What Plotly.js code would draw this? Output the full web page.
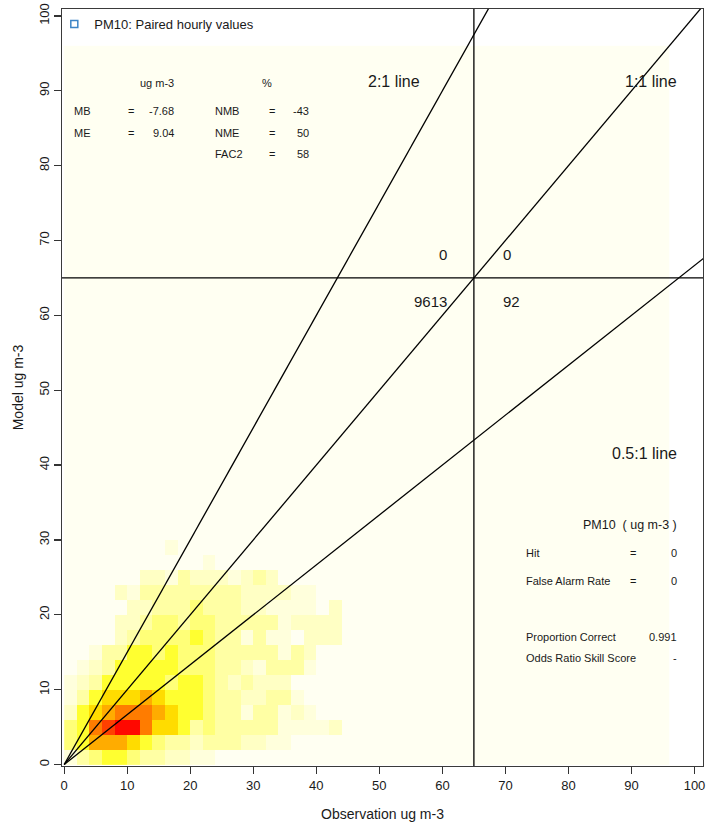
<!DOCTYPE html>
<html>
<head>
<meta charset="utf-8">
<script src="https://cdn.plot.ly/plotly-3.0.1.min.js"></script>
<style>
  html, body { margin: 0; padding: 0; background: #ffffff; }
  #chart { width: 707px; height: 822px; }
</style>
</head>
<body>
<div id="chart"></div>
<script>
// ---------------- DATA ----------------
// Binned paired values: 2 x 2 ug m-3 cells, 48 x 48 cells covering 0..96.
// Each row is one y-bin (row 0 = 0-2, row 1 = 2-4, ...), values are colour
// levels 0 (empty) .. 10 (densest), starting at x-bin 0.
const binRow00 = [1,3,4,5,5,4,3,3,2,2,1,1];
const binRow01 = [4,5,7,7,7,6,5,4,3,3,2,3,3,3,2,2,1,1];
const binRow02 = [4,5,8,9,10,10,8,6,6,5,3,4,3,3,3,3,3,1,1,1,1,2];
const binRow03 = [2,5,6,7,8,8,8,7,6,5,5,4,3,3,1,3,3,1,2,1];
const binRow04 = [1,3,5,6,6,6,7,6,5,5,5,4,3,3,2,2,3,3,1];
const binRow05 = [1,2,3,5,5,5,5,5,4,5,5,4,3,2,3,2,2,2];
const binRow06 = [0,1,2,3,5,5,5,5,5,4,4,4,3,3,2,1,3,3,3,1];
const binRow07 = [0,0,1,3,3,5,5,4,5,4,4,4,3,3,3,3,3,1,3,2];
const binRow08 = [0,0,0,0,2,3,4,4,4,4,5,4,3,3,1,3,1,1,0,2,2,2];
const binRow09 = [0,0,0,0,2,2,3,4,4,3,4,4,3,3,3,3,3,1,2,2,2,2];
const binRow10 = [0,0,0,0,0,2,2,3,3,3,4,3,3,3,2,2,1,1,1,1,0,2];
const binRow11 = [0,0,0,0,2,1,3,3,3,3,3,3,3,3,2,2,2,2,1,1];
const binRow12 = [0,0,0,0,0,0,2,2,1,3,2,2,2,1,2,3,2];
const binRow13 = [0,0,0,0,0,0,0,0,0,0,0,1];
const binRow14 = [0,0,0,0,0,0,0,0,1];
const binRows = [binRow00,binRow01,binRow02,binRow03,binRow04,binRow05,binRow06,
                 binRow07,binRow08,binRow09,binRow10,binRow11,binRow12,binRow13,binRow14];

const binWidth = 2;
const binCount = 48;

const levelColours = ['#FFFFF2','#FFFFDC','#FFFFC4','#FFFFA4','#FFFF78','#FFFF30',
                      '#FFDC00','#FFAC00','#FF7C00','#FF4000','#FF0800'];

const refLineSlopes = [1, 1.5, 1/1.5];
const thresholdValue = 65;
const quadrantCounts = [0, 0, 9613, 92];   // upper-left, upper-right, lower-left, lower-right

const statHeaders = ['ug m-3', '%'];
const absStatNames = ['MB', 'ME'];
const absStatValues = ['-7.68', '9.04'];
const pctStatNames = ['NMB', 'NME', 'FAC2'];
const pctStatValues = ['-43', '50', '58'];

const contTitle = 'PM10  ( ug m-3 )';
const contNames1 = ['Hit', 'False Alarm Rate'];
const contValues1 = ['0', '0'];
const contNames2 = ['Proportion Correct', 'Odds Ratio Skill Score'];
const contValues2 = ['0.991', '-'];

const axisTicks = [0,10,20,30,40,50,60,70,80,90,100];
const legendName = 'PM10: Paired hourly values';

// ---------------- BUILD ----------------
const centres = [];
for (let i = 0; i < binCount; i++) centres.push(binWidth * i + binWidth / 2);
const z = [];
for (let j = 0; j < binCount; j++) {
  const row = binRows[j] || [];
  const zr = [];
  for (let i = 0; i < binCount; i++) zr.push(row[i] !== undefined ? row[i] : 0);
  z.push(zr);
}
const nLev = levelColours.length;
const colorscale = [];
levelColours.forEach((c, k) => {
  colorscale.push([k / nLev, c]);
  colorscale.push([(k + 1) / nLev, c]);
});

const FONT = 'Liberation Sans, Arial, Helvetica, sans-serif';
const TXT = '#1a1a1a';

const traces = [];
traces.push({
  type: 'heatmap', x: centres, y: centres, z: z,
  zmin: -0.5, zmax: nLev - 0.5, colorscale: colorscale,
  showscale: false, hoverinfo: 'skip', showlegend: false
});

// reference lines through origin
const lineEnd = 110;
refLineSlopes.forEach(s => {
  const xe = s >= 1 ? lineEnd / s : lineEnd;
  traces.push({
    type: 'scatter', mode: 'lines', x: [0, xe], y: [0, xe * s],
    line: { color: '#000000', width: 1.3 }, hoverinfo: 'skip', showlegend: false
  });
});
// threshold lines
traces.push({ type: 'scatter', mode: 'lines', x: [thresholdValue, thresholdValue], y: [-5, 110],
  line: { color: '#000000', width: 1.3 }, hoverinfo: 'skip', showlegend: false });
traces.push({ type: 'scatter', mode: 'lines', x: [-5, 110], y: [thresholdValue, thresholdValue],
  line: { color: '#000000', width: 1.3 }, hoverinfo: 'skip', showlegend: false });

// legend entry
traces.push({ type: 'scatter', mode: 'markers', x: [null], y: [null], name: legendName,
  marker: { symbol: 'square-open', size: 7, color: '#3d85c6', line: { width: 1.5 } },
  showlegend: true, hoverinfo: 'skip' });

const ann = [];
function txt(x, y, text, anchor, size) {
  ann.push({ x: x, y: y, xref: 'x', yref: 'y', text: text, showarrow: false,
    xanchor: anchor || 'center', yanchor: 'middle',
    font: { family: FONT, size: size || 11, color: TXT } });
}
// line labels
txt(52.3, 91.2, '2:1 line', 'center', 16);
txt(97.5, 91.2, '1:1 line', 'right', 16);
txt(97.6, 41.6, '0.5:1 line', 'right', 16);
// quadrant counts
txt(61.0, 68.1, String(quadrantCounts[0]), 'right', 15);
txt(69.3, 68.1, String(quadrantCounts[1]), 'left', 15);
txt(61.0, 61.8, String(quadrantCounts[2]), 'right', 15);
txt(69.3, 61.8, String(quadrantCounts[3]), 'left', 15);
// model stats
txt(14.65, 91.0, statHeaders[0], 'center', 11);
txt(32.1, 91.0, statHeaders[1], 'center', 11);
const rowY = [87.3, 84.4, 81.6];
absStatNames.forEach((n, k) => {
  txt(1.2, rowY[k], n, 'left', 11);
  txt(10.6, rowY[k], '=', 'center', 11);
  txt(17.7, rowY[k], absStatValues[k], 'right', 11);
});
pctStatNames.forEach((n, k) => {
  txt(23.6, rowY[k], n, 'left', 11);
  txt(32.9, rowY[k], '=', 'center', 11);
  txt(39.2, rowY[k], pctStatValues[k], 'right', 11);
});
// contingency stats
txt(97.5, 32.0, contTitle, 'right', 12.5);
const cY1 = [28.2, 24.5];
contNames1.forEach((n, k) => {
  txt(73.0, cY1[k], n, 'left', 11);
  txt(90.3, cY1[k], '=', 'center', 11);
  txt(97.5, cY1[k], contValues1[k], 'right', 11);
});
const cY2 = [17.0, 14.2];
contNames2.forEach((n, k) => {
  txt(73.0, cY2[k], n, 'left', 11);
  txt(97.5, cY2[k], contValues2[k], 'right', 11);
});

const axisCommon = {
  showgrid: false, zeroline: false, showline: true, mirror: true,
  linecolor: '#3a3a3a', linewidth: 1.3,
  ticks: 'outside', ticklen: 7, tickwidth: 1.2, tickcolor: '#333333',
  tickmode: 'array', tickvals: axisTicks, ticktext: axisTicks.map(String),
  tickfont: { family: FONT, size: 13, color: TXT }
};

const layout = {
  width: 707, height: 822,
  margin: { l: 62, r: 4, t: 9, b: 56 },
  paper_bgcolor: '#ffffff', plot_bgcolor: '#ffffff',
  font: { family: FONT, color: TXT },
  xaxis: Object.assign({}, axisCommon, {
    range: [-0.35, 101.35],
    title: { text: 'Observation ug m-3', font: { family: FONT, size: 14, color: TXT }, standoff: 18 }
  }),
  yaxis: Object.assign({}, axisCommon, {
    range: [-0.2, 100.93], tickangle: -90,
    title: { text: 'Model ug m-3', font: { family: FONT, size: 14, color: TXT }, standoff: 9 }
  }),
  showlegend: true,
  legend: { x: -0.012, y: 1, xanchor: 'left', yanchor: 'top', bgcolor: 'rgba(0,0,0,0)',
    font: { family: FONT, size: 13, color: TXT }, itemwidth: 30 },
  annotations: ann
};

Plotly.newPlot('chart', traces, layout, { displayModeBar: false, staticPlot: true });
</script>
</body>
</html>
